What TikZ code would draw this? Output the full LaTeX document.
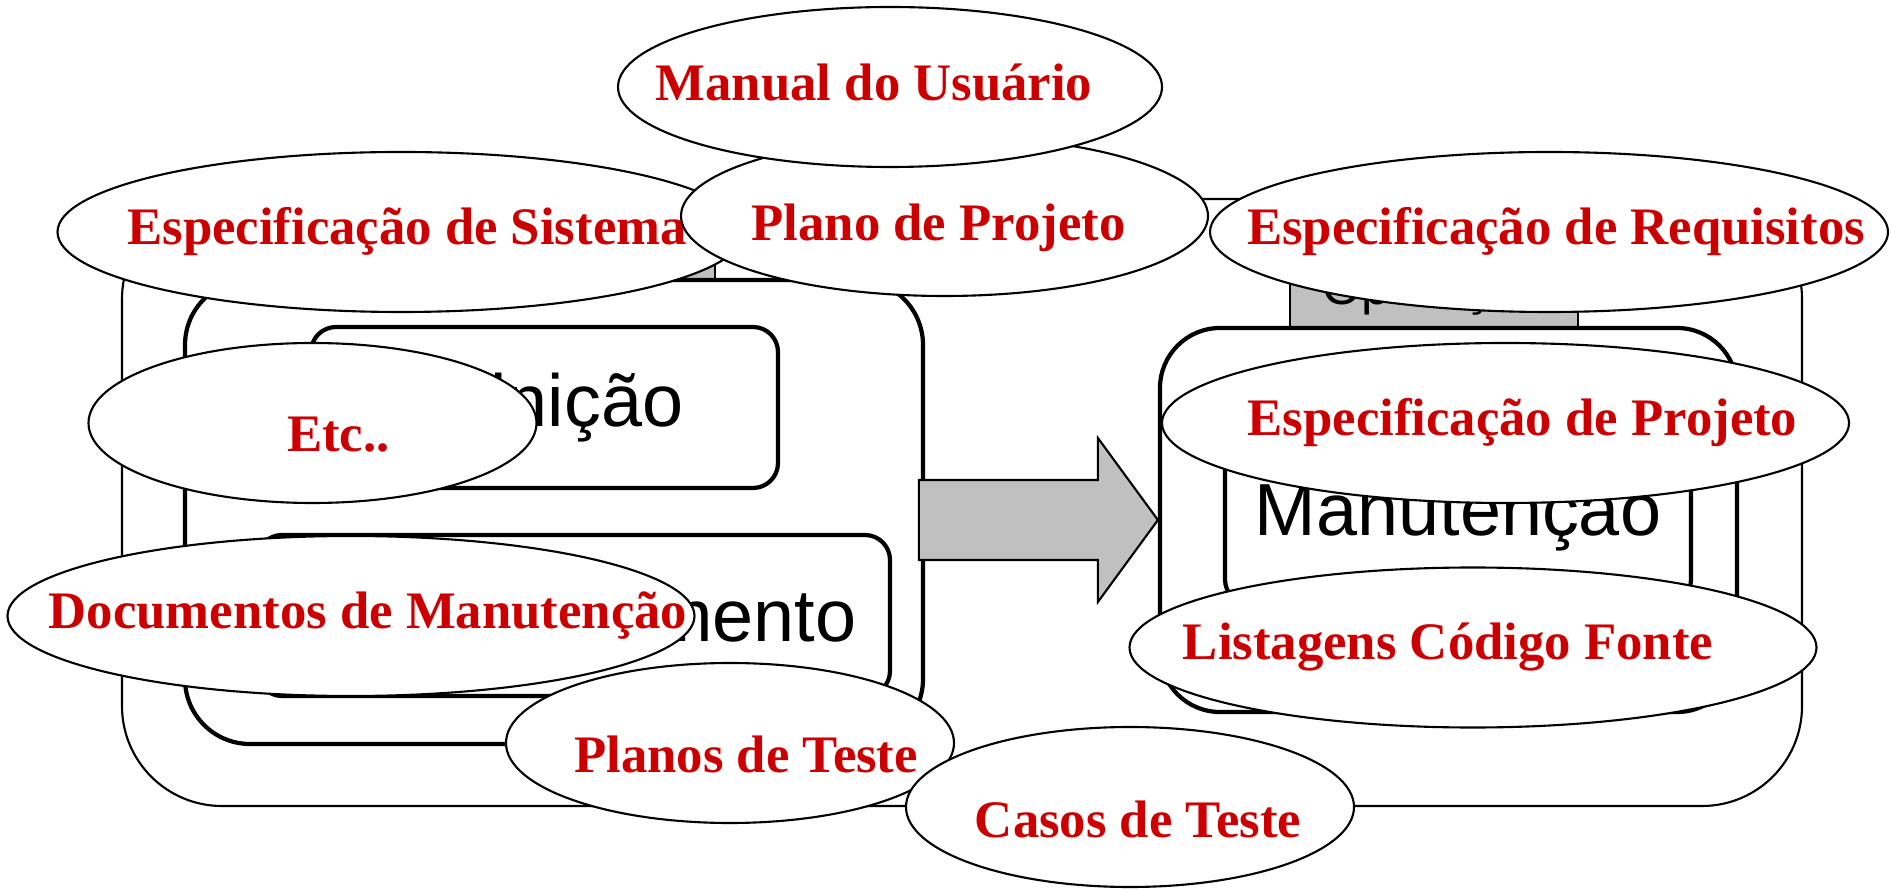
\documentclass[tikz,border=0pt]{standalone}
\usepackage{fontspec}
\setmainfont{Liberation Serif}
\setsansfont{Liberation Sans}
\usepackage{tikz}
\usetikzlibrary{shapes.geometric}

\definecolor{docred}{RGB}{204,0,0}
\definecolor{labelgray}{RGB}{192,192,192}

\begin{document}
\begin{tikzpicture}[
        phase/.style={draw, rounded corners=0.65cm, line width=1.2pt},
        stage/.style={draw, rounded corners=0.25cm, line width=1.2pt, minimum height=1.61cm, font=\sffamily\fontsize{21}{25}\selectfont},
        stagetext/.style={inner sep=0pt, font=\sffamily\fontsize{21}{25}\selectfont},
        tag/.style={draw, fill=labelgray, line width=0.5pt, minimum width=2.88cm, minimum height=0.7cm, inner sep=0pt, font=\sffamily\fontsize{14.5}{17}\selectfont},
        doc/.style={draw, ellipse, fill=white, line width=0.6pt, minimum height=1.6cm, inner sep=0pt},
        docbig/.style={doc, minimum width=6.87cm},
        docsmall/.style={doc, minimum width=4.48cm},
        doctext/.style={text=docred, inner sep=0pt, font=\bfseries\fontsize{15}{18}\selectfont}
    ]
            \useasboundingbox (0,0) rectangle (18.91,8.89);

            % ciclo de vida
            \node[draw, rounded corners=1cm, line width=0.6pt, minimum width=16.8cm, minimum height=6.07cm] (ciclo) at (9.62,3.865) {};
            \node[tag] (tagdev) at (5.71,6.44) {};
            \node[tag] (tagops) at (14.34,5.97) {Operação};

            \node[phase, minimum width=7.38cm, minimum height=4.64cm] (dev) at (5.54,3.77) {};
            \node[stage, minimum width=4.67cm] (definicao) at (5.445,4.815) {};
            \node[stagetext] (definicaotxt) at ([xshift=-0.15cm]definicao) {Definição};
            \node[stage, minimum width=6.33cm] (desenv) at (5.735,2.735) {Desenvolvimento};

            \node[phase, rounded corners=0.6cm, minimum width=5.77cm, minimum height=3.84cm] (ops) at (14.485,3.69) {};
            \node[stage, minimum width=4.66cm, minimum height=1.75cm] (manut) at (14.58,3.72) {Manutenção};

            \draw[fill=labelgray, line width=0.6pt] (ops.west) -- ++(-0.6,0.82) -- ++(0,-0.42) -- ++(-1.79,0)
                -- ++(0,-0.8) -- ++(1.79,0) -- ++(0,-0.42) -- cycle;

            % documentos
            \node[docbig] (sistema) at (4.01,6.57) {};
            \node[doctext] (sistematxt) at ([xshift=0.06cm]sistema) {Especificação de Sistema};
            \node[doc, minimum width=5.27cm] (plano) at (9.445,6.73) {};
            \node[doctext] (planotxt) at ([xshift=-0.06cm, yshift=-0.12cm]plano) {Plano de Projeto};
            \node[doc, minimum width=5.44cm] (manual) at (8.90,8.02) {};
            \node[doctext] (manualtxt) at ([xshift=-0.16cm, yshift=0.04cm]manual) {Manual do Usuário};
            \node[doc, minimum width=6.78cm] (requisitos) at (15.49,6.57) {};
            \node[doctext] (requisitostxt) at ([xshift=0.07cm]requisitos) {Especificação de Requisitos};

            \node[docsmall] (etcetera) at (3.125,4.66) {};
            \node[doctext] (etceteratxt) at ([xshift=0.26cm, yshift=-0.12cm]etcetera) {Etc..};
            \node[docbig] (projeto) at (15.055,4.66) {};
            \node[doctext] (projetotxt) at ([xshift=0.17cm]projeto) {Especificação de Projeto};
            \node[docbig] (documentos) at (3.51,2.73) {};
            \node[doctext] (documentostxt) at ([xshift=0.17cm]documentos) {Documentos de Manutenção};
            \node[docbig] (listagens) at (14.73,2.415) {};
            \node[doctext] (listagenstxt) at ([xshift=-0.25cm]listagens) {Listagens Código Fonte};

            \node[docsmall] (planos) at (7.30,1.46) {};
            \node[doctext] (planostxt) at ([xshift=0.16cm, yshift=-0.11cm]planos) {Planos de Teste};
            \node[docsmall] (casos) at (11.30,0.82) {};
            \node[doctext] (casostxt) at ([xshift=0.08cm, yshift=-0.12cm]casos) {Casos de Teste};
        \end{tikzpicture}
\end{document}
